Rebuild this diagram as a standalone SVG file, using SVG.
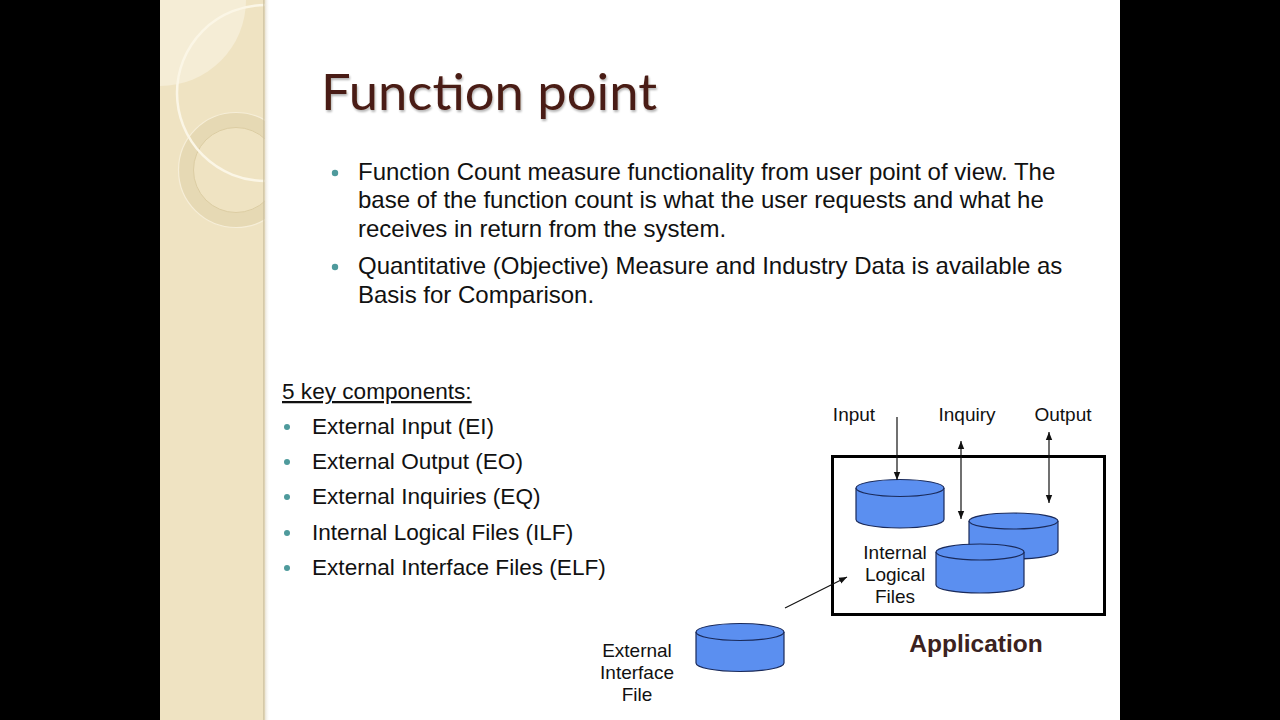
<svg xmlns="http://www.w3.org/2000/svg" width="1280" height="720" viewBox="0 0 1280 720">
<defs>
<style>
.body{font-family:"Liberation Sans",Arial,sans-serif;font-size:24px;fill:#111}
.item{font-family:"Liberation Sans",Arial,sans-serif;font-size:22.6px;fill:#111}
.lbl{font-family:"Liberation Sans",Arial,sans-serif;font-size:19px;fill:#111;text-anchor:middle}
.cyl{fill:#5b8ff0;stroke:#1a2a5a;stroke-width:1.2}
.conn{stroke:#111;stroke-width:1.2;fill:none}
.dot{fill:#4e9a9c}
</style>
<marker id="ah" viewBox="0 0 10 10" refX="10" refY="5" markerWidth="8" markerHeight="8" orient="auto-start-reverse" markerUnits="userSpaceOnUse">
<path d="M0,1 L10,5 L0,9 z" fill="#111"/>
</marker>
<clipPath id="strip"><rect x="160" y="0" width="105" height="720"/></clipPath>
<linearGradient id="shadow" x1="0" x2="1" y1="0" y2="0">
<stop offset="0" stop-color="#c8bb98" stop-opacity="0.8"/>
<stop offset="1" stop-color="#ffffff" stop-opacity="0"/>
</linearGradient>
<filter id="ts" x="-5%" y="-5%" width="110%" height="120%">
<feGaussianBlur in="SourceAlpha" stdDeviation="1.2"/>
<feOffset dx="1" dy="2" result="b"/>
<feComponentTransfer><feFuncA type="linear" slope="0.3"/></feComponentTransfer>
<feMerge><feMergeNode/><feMergeNode in="SourceGraphic"/></feMerge>
</filter>
</defs>
<rect x="0" y="0" width="1280" height="720" fill="#000"/>
<rect x="160" y="0" width="960" height="720" fill="#fff"/>
<g id="strip-deco" clip-path="url(#strip)">
<rect x="160" y="0" width="105" height="720" fill="#efe3c2"/>
<circle cx="160" cy="0" r="86" fill="#f5edd6"/>
<circle cx="236" cy="170" r="50" fill="none" stroke="#e6d9b4" stroke-width="15"/>
<circle cx="236" cy="170" r="57.5" fill="none" stroke="#f6eed8" stroke-width="1.2"/>
<circle cx="236" cy="170" r="42.5" fill="none" stroke="#dccda3" stroke-width="1"/>
<circle cx="265" cy="93" r="88" fill="none" stroke="#fbf6e6" stroke-width="2.5"/>
</g>
<rect x="263" y="0" width="7" height="720" fill="url(#shadow)"/>
<g id="title">
<text x="321" y="110" font-family="Lato,'Open Sans',sans-serif" font-size="50" fill="#4a1d12" textLength="336" lengthAdjust="spacingAndGlyphs" filter="url(#ts)">Function point</text>
</g>
<g id="bullets">
<circle class="dot" cx="335" cy="173" r="3.2"/>
<text class="body" x="358" y="180">Function Count measure functionality from user point of view. The</text>
<text class="body" x="358" y="208">base of the function count is what the user requests and what he</text>
<text class="body" x="358" y="237">receives in return from the system.</text>
<circle class="dot" cx="335" cy="267" r="3.2"/>
<text class="body" x="358" y="274">Quantitative (Objective) Measure and Industry Data is available as</text>
<text class="body" x="358" y="303">Basis for Comparison.</text>
</g>
<g id="components">
<text class="item" x="282" y="399" text-decoration="underline">5 key components:</text>
<circle class="dot" cx="287" cy="427" r="3"/>
<text class="item" x="312" y="434">External Input (EI)</text>
<circle class="dot" cx="287" cy="462" r="3"/>
<text class="item" x="312" y="469">External Output (EO)</text>
<circle class="dot" cx="287" cy="497" r="3"/>
<text class="item" x="312" y="504">External Inquiries (EQ)</text>
<circle class="dot" cx="287" cy="533" r="3"/>
<text class="item" x="312" y="540">Internal Logical Files (ILF)</text>
<circle class="dot" cx="287" cy="568" r="3"/>
<text class="item" x="312" y="575">External Interface Files (ELF)</text>
</g>
<g id="application">
<rect x="832.5" y="456.5" width="272" height="158" fill="#fff" stroke="#000" stroke-width="3"/>
<text x="976" y="652" font-family="'Liberation Sans',Arial,sans-serif" font-size="24.5" font-weight="bold" fill="#3b2220" text-anchor="middle">Application</text>
</g>
<g id="label-input"><text class="lbl" x="854" y="421">Input</text></g>
<g id="label-inquiry"><text class="lbl" x="967" y="421">Inquiry</text></g>
<g id="label-output"><text class="lbl" x="1063" y="421">Output</text></g>
<g id="ilf-1">
<path class="cyl" d="M856,488 L856,519.5 A44,8.5 0 0 0 944,519.5 L944,488"/>
<ellipse class="cyl" cx="900" cy="488" rx="44" ry="8.5"/>
</g>
<g id="ilf-2">
<path class="cyl" d="M969,521 L969,551 A44.5,8 0 0 0 1058,551 L1058,521"/>
<ellipse class="cyl" cx="1013.5" cy="521" rx="44.5" ry="8"/>
</g>
<g id="ilf-3">
<path class="cyl" d="M936,552 L936,585 A44,8 0 0 0 1024,585 L1024,552"/>
<ellipse class="cyl" cx="980" cy="552" rx="44" ry="8"/>
</g>
<g id="label-ilf">
<text class="lbl" x="895" y="559">Internal</text>
<text class="lbl" x="895" y="581">Logical</text>
<text class="lbl" x="895" y="603">Files</text>
</g>
<g id="eif">
<path class="cyl" d="M696,632 L696,663 A44,8.5 0 0 0 784,663 L784,632"/>
<ellipse class="cyl" cx="740" cy="632" rx="44" ry="8.5"/>
</g>
<g id="label-eif">
<text class="lbl" x="637" y="657">External</text>
<text class="lbl" x="637" y="679">Interface</text>
<text class="lbl" x="637" y="701">File</text>
</g>
<g id="connectors">
<line class="conn" x1="897" y1="417" x2="897" y2="480" marker-end="url(#ah)"/>
<line class="conn" x1="961" y1="441" x2="961" y2="519" marker-start="url(#ah)" marker-end="url(#ah)"/>
<line class="conn" x1="1049" y1="432" x2="1049" y2="503" marker-start="url(#ah)" marker-end="url(#ah)"/>
<line class="conn" x1="785" y1="608" x2="847" y2="577" marker-end="url(#ah)"/>
</g>
</svg>
